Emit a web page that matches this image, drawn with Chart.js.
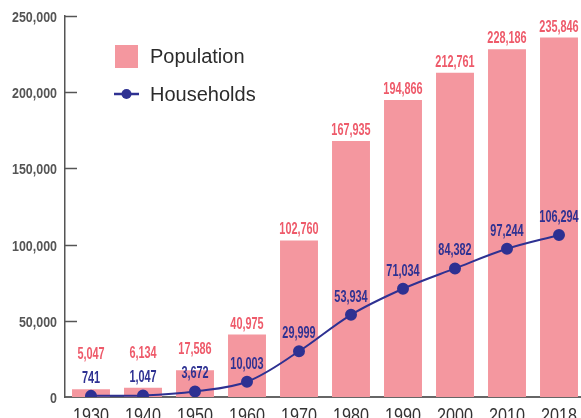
<!DOCTYPE html>
<html>
<head>
<meta charset="utf-8">
<script src="https://cdn.jsdelivr.net/npm/chart.js@4"></script>
<style>
  html, body { margin: 0; padding: 0; background: #fff; overflow: hidden; }
  #wrap { width: 581px; height: 418px; overflow: hidden; position: relative; }
</style>
</head>
<body>
<div id="wrap"><canvas id="popChart" width="592" height="430"></canvas></div>
<script>
var years = ['1930', '1940', '1950', '1960', '1970', '1980', '1990', '2000', '2010', '2018'];
var population = [5047, 6134, 17586, 40975, 102760, 167935, 194866, 212761, 228186, 235846];
var households = [741, 1047, 3672, 10003, 29999, 53934, 71034, 84382, 97244, 106294];
var yTicks = [0, 50000, 100000, 150000, 200000, 250000];

var PINK = '#f4979f';
var PINK_TEXT = '#ee5a6a';
var BLUE = '#2e3192';
var SANS = "'Liberation Sans', Arial, sans-serif";

function fmt(v) {
    return v.toLocaleString('en-US');
}

// the original uses a condensed face, squeeze the text horizontally
function narrowText(ctx, text, x, y, sx) {
    ctx.save();
    ctx.translate(x, y);
    ctx.scale(sx, 1);
    ctx.fillText(text, 0, 0);
    ctx.restore();
}

// axis labels, tick marks pointing into the plot, value labels, legend
var extras = {
    id: 'extras',
    afterDraw: function (chart) {
        var ctx = chart.ctx;
        var xs = chart.scales.x;
        var ys = chart.scales.y;
        var area = chart.chartArea;

        ctx.save();
        ctx.strokeStyle = '#555';
        ctx.lineWidth = 1.5;
        ctx.fillStyle = '#555';
        ctx.font = 'bold 15px ' + SANS;
        ctx.textAlign = 'right';
        ctx.textBaseline = 'middle';
        yTicks.forEach(function (t) {
            var py = Math.round(ys.getPixelForValue(t)) + 0.5;
            narrowText(ctx, fmt(t), area.left - 8, py + 1, 0.83);
            if (t === 0) return;
            ctx.beginPath();
            ctx.moveTo(area.left, py);
            ctx.lineTo(area.left + 12, py);
            ctx.stroke();
        });

        ctx.fillStyle = '#333';
        ctx.font = '20px ' + SANS;
        ctx.textAlign = 'center';
        ctx.textBaseline = 'alphabetic';
        years.forEach(function (yr, i) {
            narrowText(ctx, yr, xs.getPixelForTick(i), area.bottom + 25, 0.81);
        });

        var barMeta = chart.getDatasetMeta(0);
        var lineMeta = chart.getDatasetMeta(1);
        ctx.font = 'bold 16px ' + SANS;
        lineMeta.data.forEach(function (pt, i) {
            var hhBase = pt.y - 13;
            ctx.fillStyle = BLUE;
            narrowText(ctx, fmt(households[i]), pt.x, hhBase, 0.68);

            var bar = barMeta.data[i];
            var popBase = Math.min(bar.y - 6, hhBase - 24);
            ctx.fillStyle = PINK_TEXT;
            narrowText(ctx, fmt(population[i]), bar.x, popBase, 0.68);
        });

        // legend
        var ds = chart.data.datasets;
        ctx.textAlign = 'left';
        ctx.font = '20px ' + SANS;
        ctx.fillStyle = ds[0].backgroundColor;
        ctx.fillRect(115, 45, 23, 23);
        ctx.fillStyle = '#2b2b2b';
        ctx.fillText(ds[0].label, 150, 63);

        ctx.strokeStyle = ds[1].borderColor;
        ctx.lineWidth = 2.5;
        ctx.beginPath();
        ctx.moveTo(114, 94);
        ctx.lineTo(139, 94);
        ctx.stroke();
        ctx.fillStyle = ds[1].pointBackgroundColor;
        ctx.beginPath();
        ctx.arc(126.5, 94, 5, 0, Math.PI * 2);
        ctx.fill();
        ctx.fillStyle = '#2b2b2b';
        ctx.fillText(ds[1].label, 150, 101);
        ctx.restore();
    }
};

var ctx = document.getElementById('popChart').getContext('2d');
new Chart(ctx, {
    data: {
        labels: years,
        datasets: [{
            type: 'bar',
            label: 'Population',
            data: population,
            backgroundColor: PINK,
            borderWidth: 0,
            barPercentage: 0.73,
            categoryPercentage: 1,
            order: 2
        }, {
            type: 'line',
            label: 'Households',
            data: households,
            borderColor: BLUE,
            borderWidth: 2,
            pointBackgroundColor: BLUE,
            pointBorderColor: BLUE,
            pointRadius: 5,
            tension: 0.35,
            order: 1
        }]
    },
    plugins: [extras],
    options: {
        responsive: false,
        animation: false,
        layout: { padding: { top: 16, left: 0, right: 0, bottom: 0 } },
        plugins: {
            legend: { display: false },
            tooltip: { enabled: false }
        },
        scales: {
            x: {
                afterFit: function (s) { s.height = 33; s.paddingLeft = 0; s.paddingRight = 0; },
                grid: { display: false, drawTicks: false },
                border: { display: true, color: '#666', width: 2 },
                ticks: { display: false, autoSkip: false, maxRotation: 0 }
            },
            y: {
                min: 0,
                max: 250000,
                afterFit: function (s) { s.width = 65; s.paddingTop = 0; s.paddingBottom = 0; },
                afterBuildTicks: function (s) {
                    s.ticks = yTicks.map(function (v) { return { value: v }; });
                },
                grid: { display: false, drawTicks: false },
                border: { display: true, color: '#555', width: 1.5 },
                ticks: { display: false }
            }
        }
    }
});
</script>
</body>
</html>
